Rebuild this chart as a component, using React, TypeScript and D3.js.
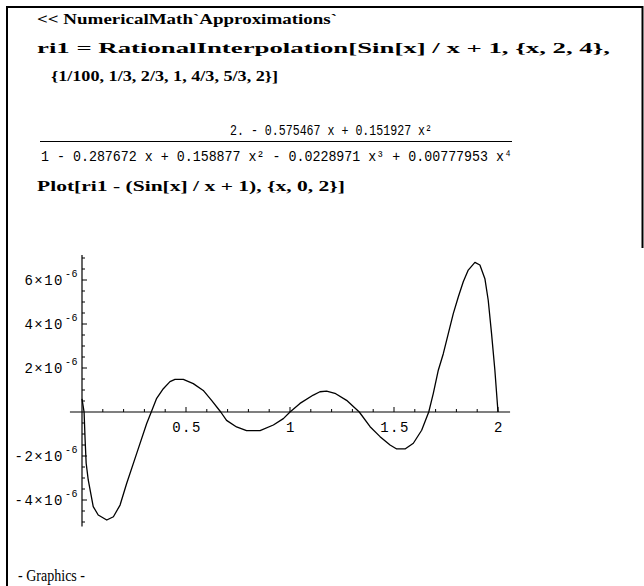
import React from "react";
import * as d3 from "d3";

const curveX = [0, 0.01, 0.015, 0.02, 0.03, 0.054, 0.078, 0.119, 0.151, 0.183, 0.215, 0.263, 0.311, 0.333, 0.359, 0.391, 0.423, 0.447, 0.487, 0.535, 0.583, 0.623, 0.667, 0.695, 0.743, 0.791, 0.856, 0.92, 0.968, 1.0, 1.048, 1.112, 1.144, 1.176, 1.216, 1.272, 1.333, 1.385, 1.433, 1.481, 1.513, 1.553, 1.593, 1.633, 1.667, 1.689, 1.713, 1.737, 1.761, 1.785, 1.809, 1.833, 1.857, 1.889, 1.913, 1.937, 1.953, 1.969, 1.985, 2.0];
const curveY = [0.6, 0, -1.27, -2.33, -3.09, -4.3, -4.68, -4.91, -4.76, -4.23, -3.24, -1.88, -0.52, 0, 0.62, 1.06, 1.38, 1.48, 1.48, 1.29, 0.98, 0.53, 0, -0.38, -0.68, -0.85, -0.85, -0.59, -0.3, 0, 0.39, 0.77, 0.92, 0.95, 0.85, 0.53, 0, -0.67, -1.12, -1.5, -1.68, -1.68, -1.42, -0.83, 0, 0.85, 1.9, 2.65, 3.56, 4.47, 5.23, 5.92, 6.45, 6.8, 6.68, 6.06, 5.08, 3.56, 1.9, 0];

const xTickLabels = ["0.5", "1", "1.5", "2"];
const xTickValues = [0.5, 1, 1.5, 2];
const yTickValues = [-4, -2, 2, 4, 6];
const yExponent = "-6";

const inputLines = [
  "<< NumericalMath`Approximations`",
  "ri1 = RationalInterpolation[Sin[x] / x + 1, {x, 2, 4},",
  "{1/100, 1/3, 2/3, 1, 4/3, 5/3, 2}]",
];
const numeratorText = "2. - 0.575467 x + 0.151927 x²";
const denominatorText = "1 - 0.287672 x + 0.158877 x² - 0.0228971 x³ + 0.00777953 x⁴";
const plotLine = "Plot[ri1 - (Sin[x] / x + 1), {x, 0, 2}]";

export default function App() {
  const W = 644, H = 586;
  const x = d3.scaleLinear().domain([0, 2]).range([82, 498]);
  const y = d3.scaleLinear().domain([0, 6]).range([412, 280]);
  const pts: [number, number][] = curveX.map((v, i) => [v, curveY[i]]);
  const line = d3.line<[number, number]>().x(d => x(d[0])).y(d => y(d[1]));
  const minorX = d3.range(0, 2.0001, 0.1).filter(v => v > 0.001);
  const minorY = d3.range(-5, 7.01, 0.5).filter(v => Math.abs(v) > 0.01);
  const mono = "'Liberation Mono', 'DejaVu Sans Mono', monospace";
  const serifB = "'Liberation Serif', 'DejaVu Serif', serif";

  return (
    <svg width={W} height={H} style={{ position: "absolute", left: 0, top: 0, background: "#fff" }}>
      <rect x={0} y={0} width={W} height={H} fill="#fff" />
      {/* cell frame */}
      <line x1={7} y1={6} x2={7} y2={H} stroke="#000" strokeWidth={2} />
      <line x1={6} y1={7} x2={643} y2={7} stroke="#000" strokeWidth={2} />
      <line x1={642.5} y1={6} x2={642.5} y2={248} stroke="#000" strokeWidth={2} />

      {/* input lines */}
      <text x={37} y={24} fontFamily={serifB} fontWeight="bold" fontSize={15} textLength={300} lengthAdjust="spacingAndGlyphs">{inputLines[0]}</text>
      <text x={37} y={53} fontFamily={serifB} fontWeight="bold" fontSize={15} textLength={573} lengthAdjust="spacingAndGlyphs">{inputLines[1]}</text>
      <text x={51} y={81} fontFamily={serifB} fontWeight="bold" fontSize={15} textLength={227} lengthAdjust="spacingAndGlyphs">{inputLines[2]}</text>

      {/* output fraction */}
      <text x={230} y={135} fontFamily={mono} fontSize={14} textLength={202} lengthAdjust="spacingAndGlyphs">{numeratorText}</text>
      <line x1={40} y1={141.5} x2={512} y2={141.5} stroke="#000" strokeWidth={1} />
      <text x={41} y={161} fontFamily={mono} fontSize={14} textLength={471} lengthAdjust="spacingAndGlyphs">{denominatorText}</text>

      <text x={37} y={191} fontFamily={serifB} fontWeight="bold" fontSize={15} textLength={308} lengthAdjust="spacingAndGlyphs">{plotLine}</text>

      {/* axes */}
      <line x1={x(-0.058)} y1={y(0)} x2={x(2.058)} y2={y(0)} stroke="#000" strokeWidth={1.2} />
      <line x1={x(0)} y1={y(7.14)} x2={x(0)} y2={y(-5.2)} stroke="#000" strokeWidth={1.2} />
      {minorX.map((v, i) => {
        const major = xTickValues.some(t => Math.abs(t - v) < 1e-6);
        return <line key={"xt" + i} x1={x(v)} x2={x(v)} y1={y(0)} y2={y(0) - (major ? 5 : 3)} stroke="#000" strokeWidth={1} />;
      })}
      {minorY.map((v, i) => {
        const major = yTickValues.some(t => Math.abs(t - v) < 1e-6);
        return <line key={"yt" + i} x1={x(0)} x2={x(0) + (major ? 5 : 3)} y1={y(v)} y2={y(v)} stroke="#000" strokeWidth={1} />;
      })}
      {xTickValues.map((v, i) => (
        <text key={"xl" + i} x={x(v) + 1} y={y(0) + 20} textAnchor="middle" fontFamily={mono} fontSize={14} letterSpacing={1.5}>{xTickLabels[i]}</text>
      ))}
      {yTickValues.map((v, i) => (
        <g key={"yl" + i}>
          <text x={64} y={y(v) + 5} textAnchor="end" fontFamily={mono} fontSize={14} letterSpacing={1.5}>{`${v}×10`}</text>
          <text x={65} y={y(v) - 3} fontFamily={mono} fontSize={10} letterSpacing={0.5}>{yExponent}</text>
        </g>
      ))}

      {/* curve */}
      <path d={line(pts) || ""} fill="none" stroke="#000" strokeWidth={1.3} strokeLinejoin="round" />

      <text x={18} y={581} fontFamily={serifB} fontSize={16} textLength={67} lengthAdjust="spacingAndGlyphs">- Graphics -</text>
    </svg>
  );
}
